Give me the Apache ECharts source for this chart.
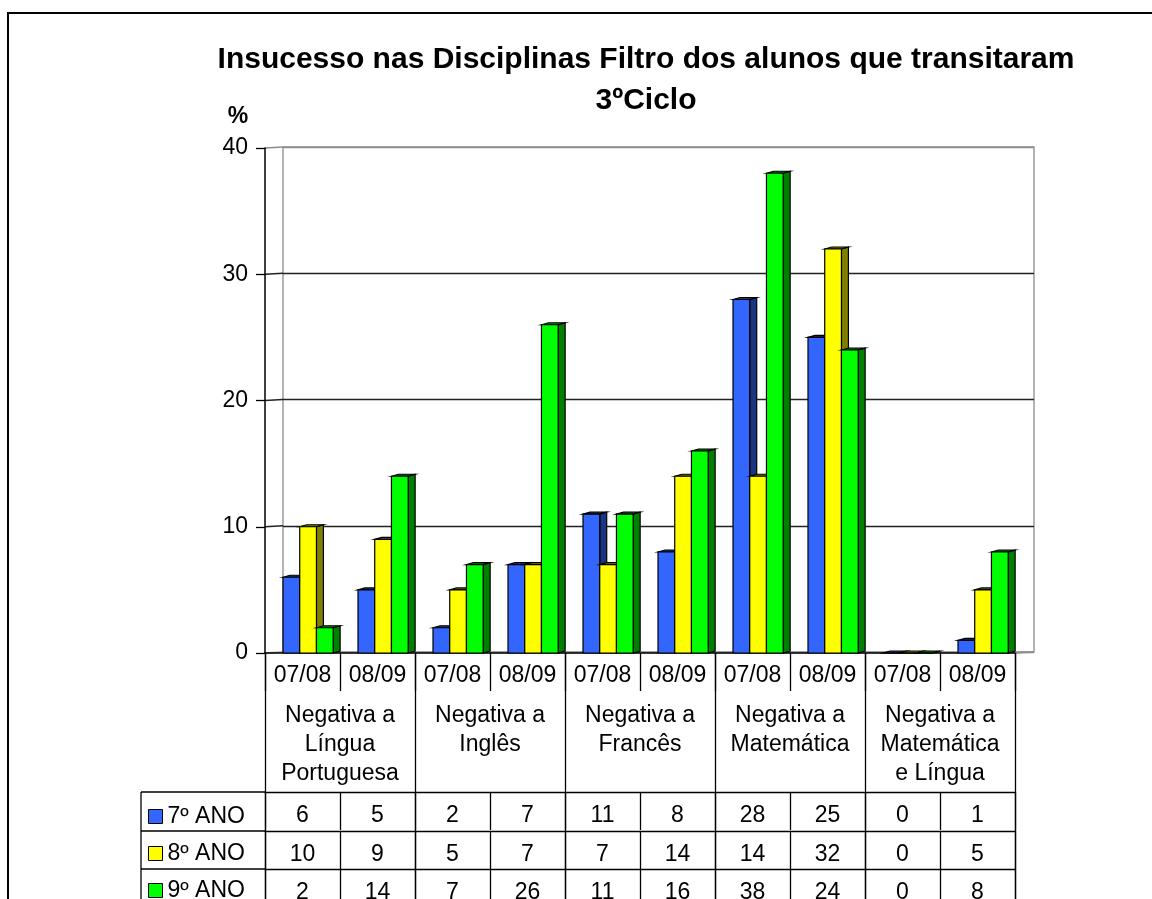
<!doctype html>
<html lang="pt">
<head>
<meta charset="UTF-8">
<title>Insucesso nas Disciplinas Filtro</title>
<script src="https://cdn.jsdelivr.net/npm/echarts@6/dist/echarts.min.js"></script>
<style>
  html, body { margin: 0; padding: 0; background: #fff; }
  #main { width: 1152px; height: 899px; }
</style>
</head>
<body>
<div id="main"></div>
<script type="text/javascript">
// dados
var periods = ['07/08', '08/09', '07/08', '08/09', '07/08', '08/09', '07/08', '08/09', '07/08', '08/09'];
var groups = ['Negativa a\nLíngua\nPortuguesa', 'Negativa a\nInglês', 'Negativa a\nFrancês', 'Negativa a\nMatemática', 'Negativa a\nMatemática\ne Língua'];
var seriesNames = ['7º ANO', '8º ANO', '9º ANO'];
var ano7 = [6, 5, 2, 7, 11, 8, 28, 25, 0, 1];
var ano8 = [10, 9, 5, 7, 7, 14, 14, 32, 0, 5];
var ano9 = [2, 14, 7, 26, 11, 16, 38, 24, 0, 8];
var yMin = 0, yMax = 40, yStep = 10;

var values = [ano7, ano8, ano9];
var frontColors = ['#3366ff', '#ffff00', '#00ff00'];
var sideColors = ['#1c3580', '#808000', '#008000'];
var FONT = '"Liberation Sans", Arial, sans-serif';
var rowOffsets = [139, 178, 216];

var myChart = echarts.init(document.getElementById('main'));

// barra "3D" do Excel: frente + lado + topo
function makeRender(k) {
	return function (params, api) {
		var x = api.value(0), v = api.value(1);
		var base = api.coord([x, 0]);
		var top = api.coord([x, v]);
		var bw = api.size([1, 0])[0];
		var w = bw * 0.223, d = bw * 0.093, dy = 2;
		var x0 = base[0] - bw * 0.26 + k * w;
		var st = { stroke: '#000', lineWidth: 1.2 };
		return {
			type: 'group',
			children: [
				{ type: 'polygon', shape: { points: [[x0 + w, top[1]], [x0 + w + d, top[1] - dy], [x0 + w + d, base[1] - dy], [x0 + w, base[1]]] },
					style: Object.assign({ fill: sideColors[k] }, st) },
				{ type: 'polygon', shape: { points: [[x0, top[1]], [x0 + d, top[1] - dy], [x0 + w + d, top[1] - dy], [x0 + w, top[1]]] },
					style: Object.assign({ fill: sideColors[k] }, st) },
				{ type: 'rect', shape: { x: x0, y: top[1], width: w, height: base[1] - top[1] },
					style: Object.assign({ fill: frontColors[k] }, st) }
			]
		};
	};
}

var xAxes = [
	{ // períodos
		type: 'category', gridIndex: 0, data: periods, position: 'bottom', offset: 0,
		axisLine: { onZero: false, lineStyle: { color: '#000', width: 1.5 } },
		axisTick: { show: true, interval: 0, length: 38, lineStyle: { color: '#000', width: 1.3 } },
		axisLabel: { interval: 0, margin: 11, color: '#000', fontSize: 23, fontFamily: FONT }
	},
	{ // disciplinas
		type: 'category', gridIndex: 0, data: groups, position: 'bottom', offset: 0,
		axisLine: { show: false, onZero: false },
		axisTick: { show: true, interval: 0, length: 250, lineStyle: { color: '#000', width: 1.3 } },
		axisLabel: { interval: 0, margin: 48, color: '#000', fontSize: 23, lineHeight: 29, fontFamily: FONT }
	},
	{ type: 'value', gridIndex: 1, show: false, min: 0, max: 1 }
];
values.forEach(function (arr, i) {
	xAxes.push({
		type: 'category', gridIndex: 0, data: arr.map(String), position: 'bottom', offset: rowOffsets[i],
		axisLine: { onZero: false, lineStyle: { color: '#000', width: 1.3 } },
		axisTick: { show: true, interval: 0, length: 38, lineStyle: { color: '#000', width: 1.3 } },
		axisLabel: { interval: 0, margin: 12, color: '#000', fontSize: 23, fontFamily: FONT }
	});
});

var series = values.map(function (arr, k) {
	return {
		name: seriesNames[k],
		type: 'custom',
		xAxisIndex: 0, yAxisIndex: 0,
		itemStyle: { color: frontColors[k] },
		renderItem: makeRender(k),
		data: arr.map(function (v, i) { return [i, v]; })
	};
});

var option = {
	animation: false,
	backgroundColor: '#fff',
	title: {
		text: 'Insucesso nas Disciplinas Filtro dos alunos que transitaram\n3ºCiclo',
		left: 641, top: 34, textAlign: 'center',
		textStyle: { fontSize: 30, fontWeight: 'bold', lineHeight: 41, color: '#000', fontFamily: FONT }
	},
	legend: {
		orient: 'vertical', left: 143, top: 800, height: 200, itemGap: 14,
		itemWidth: 14, itemHeight: 14, icon: 'rect',
		itemStyle: { borderColor: '#000', borderWidth: 1 },
		textStyle: { fontSize: 23, color: '#000', fontFamily: FONT },
		data: seriesNames
	},
	grid: [
		{ left: 265, right: 137, top: 148, bottom: 246, outerBoundsMode: 'none' },
		{ left: 283, right: 118, top: 147, bottom: 247, outerBoundsMode: 'none', show: true, borderColor: '#8c8c8c', borderWidth: 1.3 }
	],
	xAxis: xAxes,
	yAxis: [
		{
			type: 'value', gridIndex: 0, min: yMin, max: yMax, interval: yStep,
			name: '%', nameLocation: 'end', nameGap: 20,
			nameTextStyle: { fontSize: 23, fontWeight: 'bold', color: '#000', fontFamily: FONT, padding: [0, 54, 0, 0] },
			axisLine: { show: true, lineStyle: { color: '#000', width: 1.5 } },
			axisTick: { show: true, length: 9, lineStyle: { color: '#000', width: 1.3 } },
			axisLabel: { margin: 17, color: '#000', fontSize: 23, fontFamily: FONT },
			splitLine: { show: false }
		},
		{
			type: 'value', gridIndex: 1, min: yMin, max: yMax, interval: yStep,
			axisLine: { show: false }, axisTick: { show: false }, axisLabel: { show: false },
			splitLine: { show: true, lineStyle: { color: ['#8c8c8c', '#222', '#222', '#222', '#8c8c8c'], width: 1.3 } }
		}
	],
	graphic: [
		{ type: 'polyline', shape: { points: [[8, 899], [8, 13], [1152, 13]] }, style: { stroke: '#000', lineWidth: 2, fill: null } },
		{ type: 'line', shape: { x1: 141, y1: 792, x2: 141, y2: 899 }, style: { stroke: '#000', lineWidth: 1.3 } },
		{ type: 'line', shape: { x1: 141, y1: 792, x2: 265, y2: 792 }, style: { stroke: '#000', lineWidth: 1.3 } },
		{ type: 'line', shape: { x1: 141, y1: 831, x2: 265, y2: 831 }, style: { stroke: '#000', lineWidth: 1.3 } },
		{ type: 'line', shape: { x1: 141, y1: 869, x2: 265, y2: 869 }, style: { stroke: '#000', lineWidth: 1.3 } }
	],
	series: series
};

myChart.setOption(option);

// ligações entre o eixo da frente e a parede do fundo
var extra = [];
for (var t = yMin; t <= yMax; t += yStep) {
	var yf = myChart.convertToPixel({ yAxisIndex: 0 }, t);
	var yb = myChart.convertToPixel({ yAxisIndex: 1 }, t);
	extra.push({ type: 'line', shape: { x1: 265, y1: yf, x2: 283, y2: yb },
		style: { stroke: (t === yMin || t === yMax) ? '#8c8c8c' : '#222', lineWidth: 1.3 } });
}
var y0f = myChart.convertToPixel({ yAxisIndex: 0 }, yMin);
var y0b = myChart.convertToPixel({ yAxisIndex: 1 }, yMin);
extra.push({ type: 'line', shape: { x1: 1015, y1: y0f, x2: 1034, y2: y0b }, style: { stroke: '#8c8c8c', lineWidth: 1.3 } });
myChart.setOption({ graphic: option.graphic.concat(extra) });
</script>
</body>
</html>
